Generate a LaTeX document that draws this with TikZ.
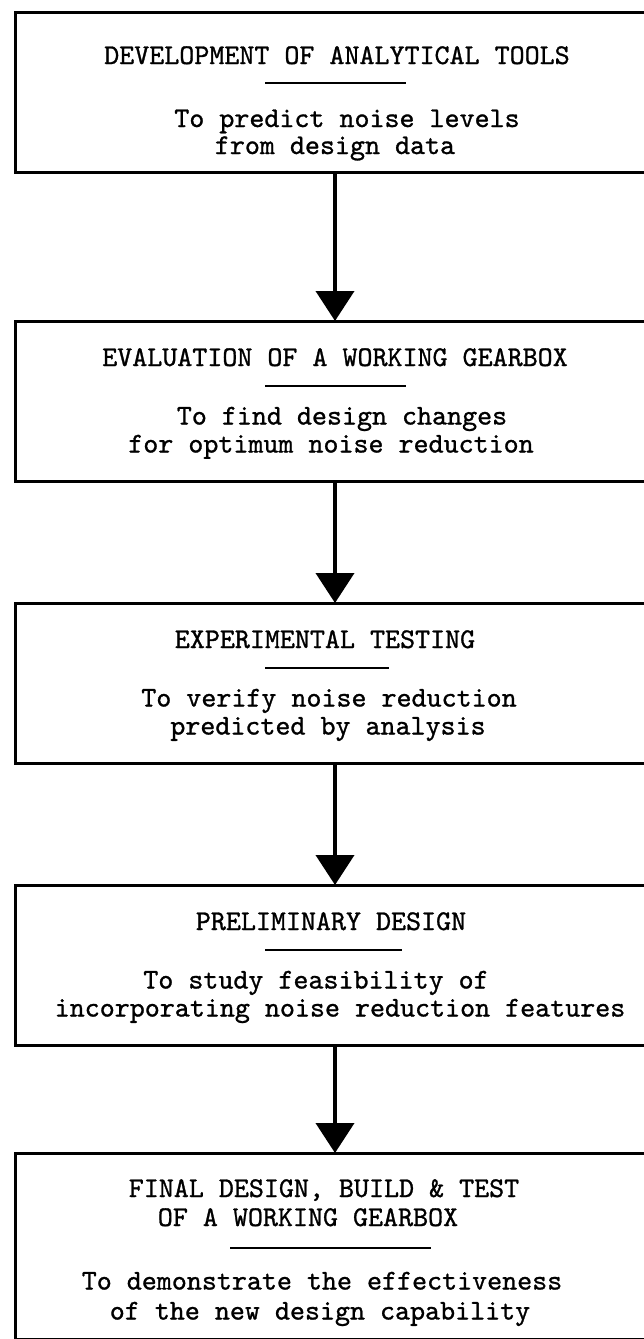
\documentclass[tikz,border=0pt]{standalone}
\usepackage{fontspec}
\newfontfamily\typewriter[FakeBold=1]{lmmono10-regular.otf}
\usetikzlibrary{arrows.meta}
\begin{document}
\begin{tikzpicture}[x=1pt,y=-1pt,
  stage/.style={draw, line width=3pt, rectangle, minimum width=640pt,
                inner sep=0pt, outer sep=0pt, anchor=north west},
  txt/.style={font=\typewriter\fontsize{28.6}{28}\selectfont,
              inner sep=0pt, anchor=base},
  sep/.style={line width=2.5pt},
  flow/.style={line width=4pt, -{Triangle[width=38pt,length=30pt]}}]
\useasboundingbox (0,0) rectangle (644,1339);
\clip (0,0) rectangle (644,1339);

% stage frames (they run past the right edge of the sheet)
\node[stage, minimum height=160pt] (b1) at (15,12) {};
\node[stage, minimum height=160pt] (b2) at (15,321) {};
\node[stage, minimum height=160pt] (b3) at (15,603) {};
\node[stage, minimum height=160pt] (b4) at (15,885) {};
\node[stage, minimum height=186pt] (b5) at (15,1153) {};

% stage 1
\node[txt] (h1) at (337,64) {DEVELOPMENT OF ANALYTICAL TOOLS};
\draw[sep] (265,83) -- (406,83);
\node[txt] (p1a) at (347,127) {To predict noise levels};
\node[txt] (p1b) at (335,154) {from design data};

% stage 2
\node[txt] (h2) at (335,366) {EVALUATION OF A WORKING GEARBOX};
\draw[sep] (265,386) -- (406,386);
\node[txt] (p2a) at (342,424.5) {To find design changes};
\node[txt] (p2b) at (331,452.5) {for optimum noise reduction};

% stage 3
\node[txt] (h3) at (325,648) {EXPERIMENTAL TESTING};
\draw[sep] (265,668) -- (389,668);
\node[txt] (p3a) at (329,706.5) {To verify noise reduction};
\node[txt] (p3b) at (328,734.5) {predicted by analysis};

% stage 4
\node[txt] (h4) at (331,930) {PRELIMINARY DESIGN};
\draw[sep] (265,950) -- (402,950);
\node[txt] (p4a) at (316,988.5) {To study feasibility of};
\node[txt] (p4b) at (340,1016.5) {incorporating noise reduction features};

% stage 5
\node[txt] (h5a) at (324,1197) {FINAL DESIGN, BUILD \& TEST};
\node[txt] (h5b) at (308,1226) {OF A WORKING GEARBOX};
\draw[sep] (230,1248) -- (431,1248);
\node[txt] (p5a) at (322,1289.5) {To demonstrate the effectiveness};
\node[txt] (p5b) at (320,1319.5) {of the new design capability};

% flow between stages
\draw[flow] (b1.south) -- (b2.north);
\draw[flow] (b2.south) -- (b3.north);
\draw[flow] (b3.south) -- (b4.north);
\draw[flow] (b4.south) -- (b5.north);
\end{tikzpicture}
\end{document}
